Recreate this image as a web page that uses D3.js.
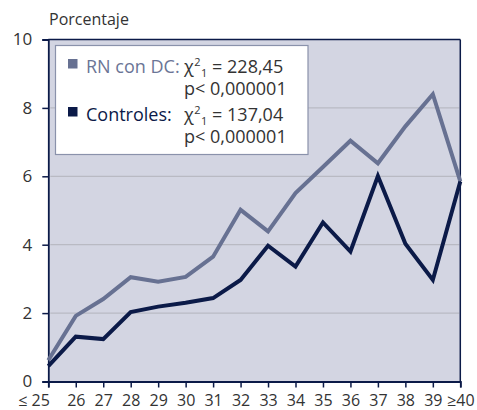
<!DOCTYPE html>
<html>
<head>
<meta charset="utf-8">
<script src="https://cdn.jsdelivr.net/npm/d3@7"></script>
<style>
  body { margin: 0; background: #fff; }
  svg { display: block; }
  text { font-family: "Open Sans", "Noto Sans", sans-serif; }
</style>
</head>
<body>
<svg id="chart" width="477" height="410"></svg>
<script>
const categories = ["≤ 25","26","27","28","29","30","31","32","33","34","35","36","37","38","39","≥40"];
const rnConDC = [0.62,1.92,2.41,3.05,2.92,3.06,3.65,5.02,4.39,5.51,6.27,7.04,6.38,7.46,8.40,5.85];
const controles = [0.45,1.31,1.24,2.03,2.19,2.30,2.44,2.97,3.97,3.36,4.65,3.80,6.01,4.03,2.97,5.85];
const yTicks = [0,2,4,6,8,10];
const seriesNames = ["RN con DC:", "Controles:"];
const chiLines = [["228,45","p< 0,000001"],["137,04","p< 0,000001"]];
const colors = ["#677192", "#0b1a48"];

const svg = d3.select("#chart");
const pLeft = 48.3, pRight = 460.3, pTop = 39.5, pBottom = 381.5;

const x = d3.scalePoint().domain(categories).range([pLeft, pRight]).padding(0);
const y = d3.scaleLinear().domain([0, 10]).range([pBottom, pTop]);

// plot background
svg.append("rect").attr("x", pLeft).attr("y", pTop)
  .attr("width", pRight - pLeft).attr("height", pBottom - pTop)
  .attr("fill", "#d3d5e2");

// gridlines
svg.append("g").selectAll("line").data(yTicks.filter(d => d > 0 && d < 10)).join("line")
  .attr("x1", pLeft + 2).attr("x2", pRight - 1)
  .attr("y1", d => y(d)).attr("y2", d => y(d))
  .attr("stroke", "#b9bac3").attr("stroke-width", 1.2);

// frame top/right
svg.append("line").attr("x1", pLeft).attr("x2", pRight).attr("y1", pTop).attr("y2", pTop)
  .attr("stroke", "#0b1a48").attr("stroke-width", 1.5);
svg.append("line").attr("x1", pRight).attr("x2", pRight).attr("y1", pTop).attr("y2", pBottom)
  .attr("stroke", "#0b1a48").attr("stroke-width", 1.5);

// y axis
const yAxis = svg.append("g").attr("transform", `translate(${pLeft},0)`)
  .call(d3.axisLeft(y).tickValues(yTicks).tickSize(6).tickPadding(10).tickFormat(d3.format("d")));
yAxis.select(".domain").attr("stroke", "#0b1a48").attr("stroke-width", 1.8);
yAxis.selectAll(".tick line").attr("stroke", "#0b1a48").attr("stroke-width", 1.5);
yAxis.selectAll(".tick text").attr("font-size", 17).attr("fill", "#333")
  .attr("font-family", "'Open Sans', sans-serif");

// x axis
const xAxis = svg.append("g").attr("transform", `translate(0,${pBottom})`)
  .call(d3.axisBottom(x).tickSize(6).tickPadding(7));
xAxis.select(".domain").attr("stroke", "#0b1a48").attr("stroke-width", 1.8);
xAxis.selectAll(".tick line").attr("stroke", "#0b1a48").attr("stroke-width", 1.5);
xAxis.selectAll(".tick text").attr("font-size", 16).attr("fill", "#333")
  .attr("font-family", "'Open Sans', sans-serif");
xAxis.selectAll(".tick text").filter(d => d === categories[0])
  .attr("text-anchor", "end").attr("dx", 1);

// lines
const line = d3.line().x((d, i) => x(categories[i])).y(d => y(d));
[rnConDC, controles].forEach((s, k) => {
  svg.append("path").datum(s).attr("d", line)
    .attr("fill", "none").attr("stroke", colors[k])
    .attr("stroke-width", 4).attr("stroke-linejoin", "miter");
});

// y title
svg.append("text").attr("x", 49).attr("y", 25).attr("font-size", 16).attr("fill", "#333")
  .text("Porcentaje");

// legend box
svg.append("rect").attr("x", 55.5).attr("y", 45.5).attr("width", 252.5).attr("height", 109)
  .attr("fill", "#fff").attr("stroke", "#8a92ab").attr("stroke-width", 1.2);

const legendRows = [73, 121];
seriesNames.forEach((name, k) => {
  const by = legendRows[k];
  svg.append("rect").attr("x", 68).attr("y", by - 14).attr("width", 9.5).attr("height", 9.5)
    .attr("fill", colors[k]);
  svg.append("text").attr("x", 86).attr("y", by).attr("font-size", 18)
    .attr("fill", k === 0 ? "#6b7596" : "#0b1a48").text(name);
  const t = svg.append("text").attr("x", 184).attr("y", by).attr("font-size", 18).attr("fill", "#333");
  t.append("tspan").text("χ");
  t.append("tspan").attr("font-size", 11).attr("dy", -7).attr("dx", 0.5).text("2");
  t.append("tspan").attr("font-size", 11).attr("dy", 11).attr("dx", 0.5).text("1");
  t.append("tspan").attr("dy", -4).text(" = " + chiLines[k][0]);
  svg.append("text").attr("x", 184).attr("y", by + 22).attr("font-size", 18).attr("fill", "#333")
    .text(chiLines[k][1]);
});
</script>
</body>
</html>
